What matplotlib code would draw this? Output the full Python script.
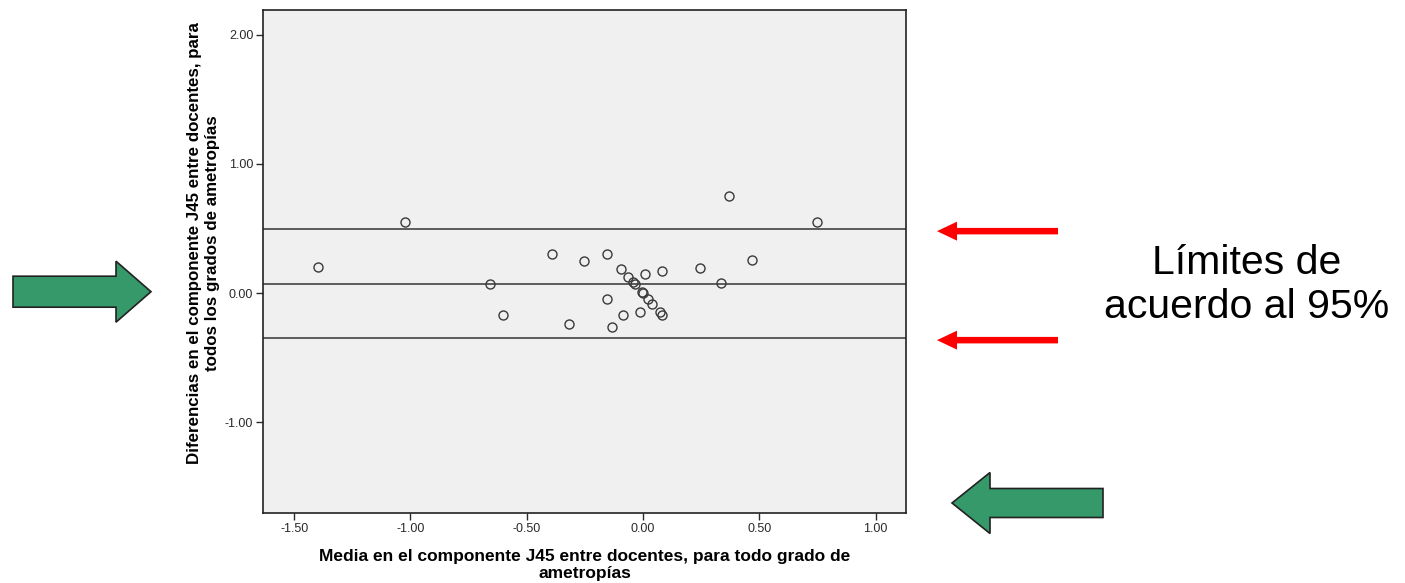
import matplotlib
matplotlib.use("Agg")
import matplotlib.pyplot as plt
from matplotlib.patches import FancyArrow

plt.rcParams['font.family'] = ['Liberation Sans', 'DejaVu Sans']

# Media J45 entre docentes (eje x) y diferencias (eje y)
media = [-1.397, -1.023, -0.658, -0.601, -0.393, -0.318, -0.254, -0.155,
         -0.155, -0.132, -0.096, -0.087, -0.066, -0.042, -0.034, -0.013,
         -0.006, 0.000, 0.007, 0.020, 0.039, 0.073, 0.082, 0.083,
         0.245, 0.334, 0.371, 0.470, 0.747]
diferencia = [0.201, 0.549, 0.067, -0.170, 0.302, -0.242, 0.247, 0.304,
              -0.044, -0.261, 0.188, -0.170, 0.126, 0.083, 0.067, -0.147,
              0.010, -0.002, 0.152, -0.046, -0.085, -0.145, -0.170, 0.172,
              0.191, 0.077, 0.752, 0.253, 0.549]

# lineas de Bland-Altman
media_dif = 0.07
lim_sup = 0.495
lim_inf = -0.348

xticks = [-1.5, -1.0, -0.5, 0.0, 0.5, 1.0]
yticks = [-1.0, 0.0, 1.0, 2.0]

fig = plt.figure(figsize=(14.05, 5.83), dpi=100)
ax = fig.add_axes([0.1872, 0.1201, 0.4577, 0.8628])
ax.set_facecolor('#f0f0f0')

for v in [lim_sup, media_dif, lim_inf]:
    ax.axhline(v, color='#333333', lw=1.1, zorder=1)

ax.plot(media, diferencia, ls='', marker='o', ms=6.5, mfc='none',
        mec='#3a3a3a', mew=1.0, zorder=2)

ax.set_xlim(-1.634, 1.131)
ax.set_ylim(-1.70, 2.19)
ax.set_xticks(xticks)
ax.set_xticklabels(['%.2f' % t for t in xticks])
ax.set_yticks(yticks)
ax.set_yticklabels(['%.2f' % t for t in yticks])
ax.tick_params(direction='out', length=5, width=1, labelsize=9,
               colors='#2a2a2a', pad=2)
for s in ax.spines.values():
    s.set_color('#222222')
    s.set_linewidth(1.2)

ax.set_xlabel('Media en el componente J45 entre docentes, para todo grado de\nametropías',
              fontsize=12.5, fontweight='bold', linespacing=1.12)
ax.xaxis.set_label_coords(0.5, -0.072)
ax.set_ylabel('Diferencias en el componente J45 entre docentes, para\ntodos los grados de ametropías',
              fontsize=12.2, fontweight='bold', linespacing=1.25, va='center')
ax.yaxis.set_label_coords(-0.093, 0.537)

# flechas verdes (en pixeles de la figura)
H = 583
def px(x, y):
    return x / 100.0, (H - y) / 100.0

verde = '#35996a'
x0, y0 = px(13, 291.7)
fig.patches.append(FancyArrow(x0, y0, 1.38, 0, width=0.31, head_width=0.61,
                              head_length=0.35, length_includes_head=True,
                              fc=verde, ec='#222222', lw=1.2,
                              transform=fig.dpi_scale_trans))
x0, y0 = px(1103, 503)
fig.patches.append(FancyArrow(x0, y0, -1.51, 0, width=0.29, head_width=0.61,
                              head_length=0.38, length_includes_head=True,
                              fc=verde, ec='#222222', lw=1.2,
                              transform=fig.dpi_scale_trans))

# flechas rojas hacia los limites
to_in = ax.transData + fig.dpi_scale_trans.inverted()
for v in [lim_sup, lim_inf]:
    yin = to_in.transform((0, v))[1] - 0.02
    fig.patches.append(FancyArrow(10.58, yin, -1.21, 0, width=0.065,
                                  head_width=0.19, head_length=0.20,
                                  length_includes_head=True, fc='#ff0000',
                                  ec='none', transform=fig.dpi_scale_trans))

fig.text(1247 / 1405, 1 - 285 / H, 'Límites de\nacuerdo al 95%', fontsize=29.5,
         ha='center', va='center', linespacing=1.18, color='black')

fig.savefig('out.png', dpi=100)
